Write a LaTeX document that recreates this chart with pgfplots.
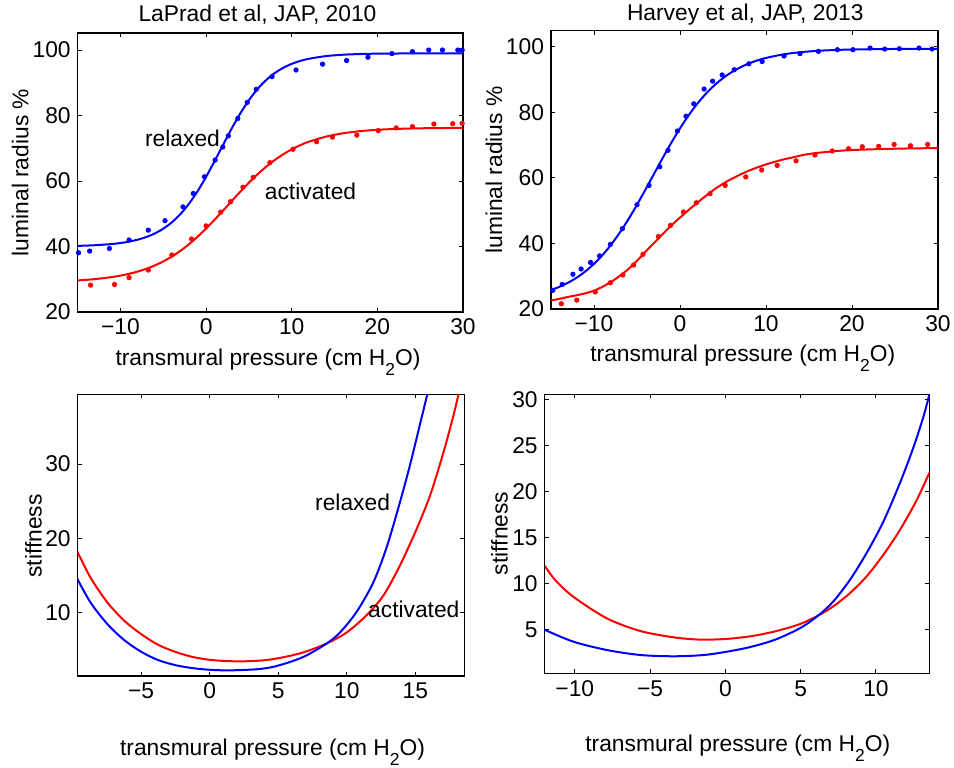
\documentclass[border=0pt]{standalone}
\usepackage{fontspec}
\setmainfont{Liberation Sans}
\usepackage{pgfplots}
\pgfplotsset{compat=1.18}

\newcommand\fs{\fontsize{11.4}{13}\selectfont}
\newcommand\xlab{transmural pressure (cm H\raisebox{-5pt}{\fontsize{8.7}{10}\selectfont 2}O)}

\pgfplotsset{
  panel/.style={
    scale only axis, anchor=north west,
    axis line style={line width=0.6pt},
    tick style={line width=0.5pt, black},
    major tick length=2pt, tick align=inside,
    tick label style={font=\fs, /pgf/number format/assume math mode=true},
  },
  fit/.style={line width=1pt, no markers, smooth},
  pts/.style={only marks, mark=*, mark size=1.1pt},
}

\begin{document}
\begin{tikzpicture}
\useasboundingbox (0,0) rectangle (477pt,-383.5pt);

% top left: LaPrad 2010
\begin{axis}[panel, at={(38.85pt,-16.5pt)}, width=192.65pt, height=139.5pt,
  xmin=-15, xmax=30, ymin=20, ymax=105.2, clip=false,
  xtick={-10,0,10,20,30}, xticklabels={−10,0,10,20,30},
  ytick={20,40,60,80,100}]
\addplot[fit, blue] coordinates {
 (-15,40.19) (-13,40.39) (-11,40.76) (-10,41.06) (-9,41.49) (-8,42.08) (-7,42.89)
 (-6,43.98) (-5,45.46) (-4,47.40) (-3,49.91) (-2,53.07) (-1,56.89) (0,61.29)
 (1,66.14) (2,71.15) (3,76.10) (4,80.68) (5,84.71) (6,88.09) (7,90.81) (8,92.94)
 (9,94.56) (10,95.78) (11,96.68) (12,97.33) (14,98.15) (16,98.57) (18,98.78)
 (20,98.89) (25,98.98) (30,99.0)};
\addplot[fit, red] coordinates {
 (-15,29.64) (-13,30.04) (-11,30.67) (-10,31.11) (-9,31.66) (-8,32.34) (-7,33.19)
 (-6,34.22) (-5,35.46) (-4,36.95) (-3,38.69) (-2,40.70) (-1,42.99) (0,45.50)
 (1,48.21) (2,51.03) (3,53.92) (4,56.76) (5,59.49) (6,62.03) (7,64.34) (8,66.38)
 (9,68.16) (10,69.68) (11,70.95) (12,72.00) (14,73.56) (16,74.58) (18,75.23)
 (20,75.64) (22,75.89) (25,76.10) (30,76.24)};
\addplot[pts, blue] coordinates {
 (-14.9,38.1) (-13.6,38.6) (-11.3,39.4) (-9.0,42.0) (-6.75,45.0) (-4.8,47.9)
 (-2.7,52.1) (-1.5,56.2) (-0.2,61.3) (1.05,66.4) (1.95,70.4) (2.6,73.8) (3.7,79.1)
 (4.8,84.0) (5.85,88.0) (7.7,91.9) (10.5,93.9) (13.6,95.7) (16.4,96.8) (18.9,97.8)
 (21.7,98.9) (24.1,99.5) (26.0,100) (27.6,100) (29.4,100) (29.9,100)};
\addplot[pts, red] coordinates {
 (-13.5,28.2) (-10.7,28.4) (-9.0,30.5) (-6.75,32.8) (-4.0,37.4) (-1.7,42.3) (0,46.3)
 (1.7,50.5) (2.85,53.7) (4.3,58.1) (5.5,61.1) (7.45,65.6) (10.15,69.7) (12.9,72.0)
 (14.75,73.4) (17.6,74.0) (20.1,75.4) (22.2,76.2) (24.1,76.6) (26.6,77.4) (28.8,77.5)
 (29.9,77.6)};
\end{axis}

% top right: Harvey 2013
\begin{axis}[panel, at={(275.5pt,-15.35pt)}, width=193.5pt, height=139.15pt,
  xmin=-15, xmax=30, ymin=20, ymax=104.9, clip=false,
  xtick={-10,0,10,20,30}, xticklabels={−10,0,10,20,30},
  ytick={20,40,60,80,100}]
\addplot[fit, blue] coordinates {
 (-15,25.78) (-14,26.79) (-13,28.05) (-12,29.59) (-11,31.49) (-10,33.77) (-9,36.49)
 (-8,39.67) (-7,43.31) (-6,47.37) (-5,51.81) (-4,56.50) (-3,61.33) (-2,66.13)
 (-1,70.77) (0,75.11) (1,79.07) (2,82.60) (3,85.65) (4,88.25) (5,90.44) (6,92.24)
 (7,93.70) (8,94.90) (9,95.85) (10,96.60) (12,97.67) (14,98.35) (16,98.76)
 (18,99.01) (20,99.16) (24,99.31) (30,99.38)};
\addplot[fit, red] coordinates {
 (-15,22.6) (-14,23.1) (-13,23.7) (-12,24.2) (-11,24.8) (-10,25.6) (-9,26.8)
 (-8,28.3) (-7,30.1) (-6,32.2) (-5,34.7) (-4,37.5) (-3,40.2) (-2,42.9) (-1,45.5)
 (0,47.9) (1,50.2) (2,52.4) (3,54.5) (4,56.5) (5,58.2) (6,59.7) (7,61.0) (8,62.2)
 (9,63.2) (10,64.1) (11,64.9) (12,65.6) (13,66.2) (14,66.8) (15,67.3) (17,67.9)
 (20,68.5) (25,68.9) (30,69.1)};
\addplot[pts, blue] coordinates {
 (-14.8,25.7) (-13.7,27.5) (-12.45,30.6) (-11.5,32.2) (-10.4,34.2) (-9.35,36.2)
 (-8.1,39.7) (-6.7,44.5) (-5.0,51.8) (-3.6,57.7) (-2.35,63.4) (-1.4,68.4) (-0.3,74.3)
 (0.7,78.8) (1.6,82.6) (2.8,87.1) (3.8,89.5) (4.9,91.4) (6.3,93.0) (8.0,94.8)
 (9.55,95.5) (12.1,97.2) (13.95,97.9) (16.1,98.6) (18.3,99.1) (20.1,99.1) (22.1,99.6)
 (23.8,99.3) (25.5,99.4) (27.8,99.6) (29.3,99.3)};
\addplot[pts, red] coordinates {
 (-13.8,21.6) (-12.0,22.7) (-9.85,25.2) (-8.1,28.0) (-6.65,30.4) (-5.4,33.4)
 (-4.3,36.7) (-2.5,42.1) (-1.1,45.5) (0.4,49.6) (1.9,52.4) (3.5,55.2) (5.25,57.7)
 (7.65,60.3) (9.5,62.4) (11.3,63.8) (13.5,65.2) (15.7,67.0) (17.7,68.2) (19.6,68.9)
 (21.2,69.5) (23.1,69.6) (24.9,70.2) (26.8,69.8) (28.8,70.2)};
\end{axis}

% bottom left: stiffness, LaPrad
\begin{axis}[panel, at={(38.85pt,-197.15pt)}, width=193.3pt, height=140.85pt,
  xmin=-9.62, xmax=18.57, ymin=1.42, ymax=39.4,
  xtick={-5,0,5,10,15}, xticklabels={−5,0,5,10,15},
  ytick={10,20,30}]
\addplot[fit, red] coordinates {
 (-9.7,18.4) (-8.69,14.7) (-7.46,11.35) (-6.23,8.88) (-5.0,7.08) (-3.77,5.64)
 (-2.54,4.70) (-1.31,4.02) (-0.07,3.62) (1.16,3.44) (2.39,3.40) (3.62,3.49)
 (4.7,3.72) (6.0,4.2) (7.07,4.75) (8.54,5.81) (10.0,7.3) (11.46,9.64) (12.68,12.3)
 (13.9,16.4) (15.12,21.35) (16.1,25.9) (17.07,31.7) (17.8,36.7) (18.25,40.2)};
\addplot[fit, blue] coordinates {
 (-9.7,14.7) (-8.69,11.35) (-7.46,8.43) (-6.23,6.27) (-5.0,4.70) (-3.77,3.58)
 (-2.54,2.90) (-1.31,2.50) (-0.07,2.27) (1.16,2.18) (2.39,2.23) (3.62,2.36)
 (4.7,2.68) (6.0,3.4) (7.07,4.2) (8.54,5.81) (9.51,7.3) (10.73,10.1) (11.95,14.1)
 (12.93,18.9) (13.9,25.0) (14.63,30.0) (15.37,35.6) (15.98,40.2)};
\end{axis}

% bottom right: stiffness, Harvey
\begin{axis}[panel, at={(272.35pt,-197.15pt)}, width=192.3pt, height=139.5pt,
  xmin=-12, xmax=13.54, ymin=0.22, ymax=30.54,
  xtick={-10,-5,0,5,10}, xticklabels={−10,−5,0,5,10},
  ytick={5,10,15,20,25,30}]
\addplot[fit, red] coordinates {
 (-12,11.9) (-11.3,10.35) (-10.1,8.54) (-7.87,6.19) (-5.66,4.82) (-3.45,4.13)
 (-1.66,3.88) (0,3.95) (1.66,4.24) (3.31,4.78) (4.97,5.58) (6.18,6.52) (7.17,7.5)
 (8.28,8.95) (9.38,10.76) (10.49,13.1) (11.59,15.8) (12.69,19.0) (13.54,22.0)};
\addplot[fit, blue] coordinates {
 (-12,4.95) (-10.1,3.66) (-7.87,2.75) (-5.66,2.21) (-3.45,2.07) (-1.5,2.2)
 (0,2.54) (1.66,3.08) (3.31,3.88) (4.97,5.14) (6.18,6.52) (7.17,8.04) (8.28,10.4)
 (9.38,13.3) (10.49,16.7) (11.59,20.9) (12.47,24.7) (13.13,28.0) (13.54,30.5)};
\end{axis}

% titles, axis labels and annotations
\begin{scope}[every node/.style={font=\fs, inner sep=0pt}]
\node[anchor=base] at (128.75pt,-10.85pt) {LaPrad et al, JAP, 2010};
\node[anchor=base] at (372.65pt,-10.35pt) {Harvey et al, JAP, 2013};
\node[anchor=base] at (134pt,-182.5pt) {\xlab};
\node[anchor=base] at (371.4pt,-180.8pt) {\xlab};
\node[anchor=base] at (136.25pt,-377.5pt) {\xlab};
\node[anchor=base] at (368.9pt,-375.8pt) {\xlab};
\node[anchor=base, rotate=90] at (14.15pt,-86.25pt) {luminal radius \%};
\node[anchor=base, rotate=90] at (251pt,-85pt) {luminal radius \%};
\node[anchor=base, rotate=90] at (20.8pt,-267.9pt) {stiffness};
\node[anchor=base, rotate=90] at (253.8pt,-266.7pt) {stiffness};
\node[anchor=base] at (91.25pt,-73.3pt) {relaxed};
\node[anchor=base] at (155.25pt,-99.5pt) {activated};
\node[anchor=base] at (176.3pt,-255pt) {relaxed};
\node[anchor=base] at (206.9pt,-308.7pt) {activated};
\end{scope}
\end{tikzpicture}
\end{document}
